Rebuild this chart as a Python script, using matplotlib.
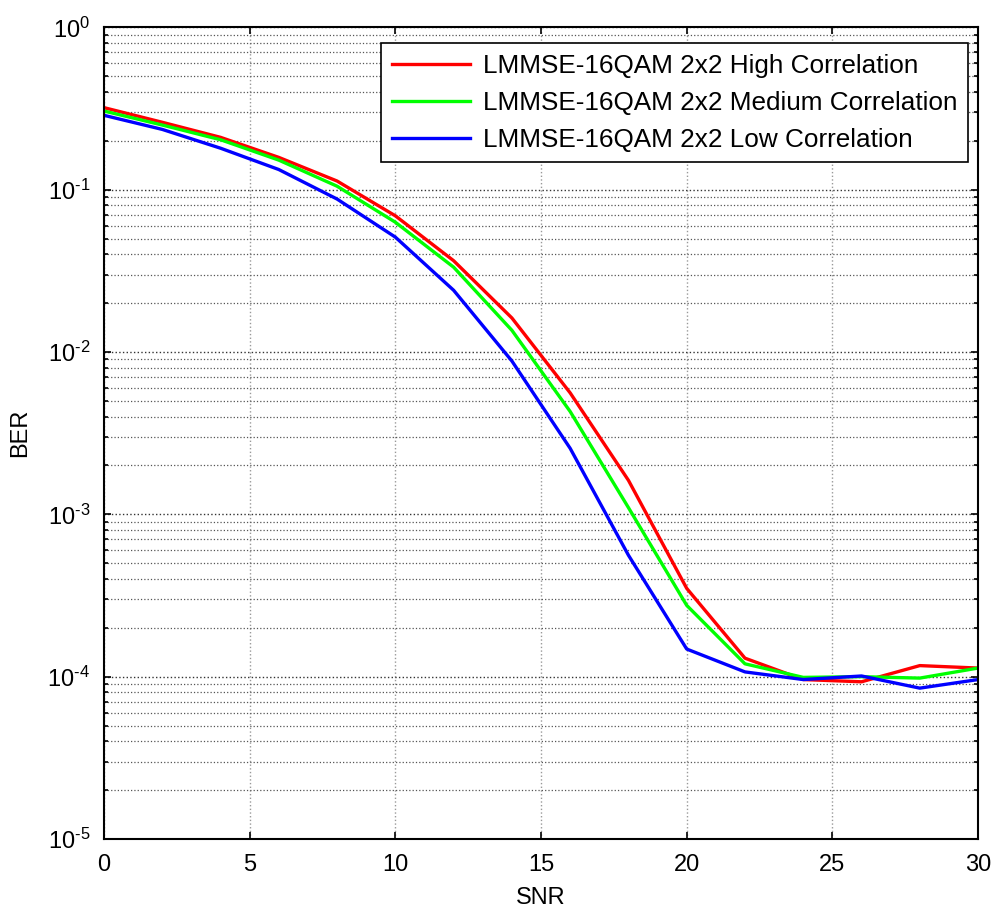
import matplotlib
matplotlib.use('Agg')
import matplotlib.pyplot as plt
from matplotlib.ticker import LogLocator, NullFormatter, FuncFormatter
import numpy as np

plt.rcParams['font.family'] = ['Liberation Sans', 'DejaVu Sans']
plt.rcParams['mathtext.fontset'] = 'custom'
plt.rcParams['mathtext.rm'] = 'Liberation Sans'

snr = [0, 2, 4, 6, 8, 10, 12, 14, 16, 18, 20, 22, 24, 26, 28, 30]
ber_high = [0.32, 0.26, 0.21, 0.158, 0.113, 0.069, 0.0365, 0.0162, 0.0056, 0.00162,
            3.5e-4, 1.3e-4, 9.6e-5, 9.3e-5, 1.17e-4, 1.13e-4]
ber_medium = [0.305, 0.25, 0.203, 0.152, 0.105, 0.063, 0.0333, 0.0136, 0.0043, 0.0011,
              2.75e-4, 1.2e-4, 9.9e-5, 1.0e-4, 9.8e-5, 1.13e-4]
ber_low = [0.287, 0.235, 0.18, 0.133, 0.0875, 0.051, 0.024, 0.0088, 0.00255, 5.6e-4,
           1.48e-4, 1.07e-4, 9.6e-5, 1.01e-4, 8.5e-5, 9.6e-5]
labels = ['LMMSE-16QAM 2x2 High Correlation',
          'LMMSE-16QAM 2x2 Medium Correlation',
          'LMMSE-16QAM 2x2 Low Correlation']

fig = plt.figure(figsize=(9.97, 9.10), dpi=100)
ax = fig.add_axes([0.1043, 0.078, 0.8767, 0.892])

ax.semilogy(snr, ber_high, color='#ff0000', lw=2.4, label=labels[0])
ax.semilogy(snr, ber_medium, color='#00ff00', lw=2.4, label=labels[1])
ax.semilogy(snr, ber_low, color='#0000ff', lw=2.4, label=labels[2])

ax.set_xlim(0, 30)
ax.set_ylim(1e-5, 1)
ax.set_xticks([0, 5, 10, 15, 20, 25, 30])
ax.yaxis.set_major_locator(LogLocator(base=10, numticks=10))
ax.yaxis.set_minor_locator(LogLocator(base=10, subs=range(2, 10), numticks=20))
ax.yaxis.set_minor_formatter(NullFormatter())


def pow_label(v, pos):
    e = int(round(np.log10(v)))
    if e < 0:
        return r'$\mathregular{10^{\text{-}%d}}$' % (-e)
    return r'$\mathregular{10^{%d}}$' % e


ax.yaxis.set_major_formatter(FuncFormatter(pow_label))

ax.grid(True, which='major', axis='x', color='#999999', linestyle=':', lw=1.0)
ax.grid(True, which='major', axis='y', color='#333333', linestyle=':', lw=1.0)
ax.grid(True, which='minor', axis='y', color='#555555', linestyle=':', lw=0.9)

ax.tick_params(which='both', direction='in', top=True, right=True, labelsize=17)
ax.tick_params(axis='x', pad=11)
ax.tick_params(axis='y', pad=10)
ax.tick_params(which='major', length=5, width=1.2)
ax.tick_params(which='minor', length=3, width=1.2)
for s in ax.spines.values():
    s.set_linewidth(1.5)

ax.set_xlabel('SNR', fontsize=17, labelpad=8)
ax.set_ylabel('BER', fontsize=17, labelpad=12)

leg = ax.legend(loc='upper right', fontsize=18.8, fancybox=False, framealpha=1,
                edgecolor='black', handlelength=3.0, handletextpad=0.5,
                borderpad=0.4, labelspacing=0.5, borderaxespad=0,
                bbox_to_anchor=(0.9886, 0.9803))
leg.get_frame().set_linewidth(1.2)

fig.savefig('out.png', dpi=100)
